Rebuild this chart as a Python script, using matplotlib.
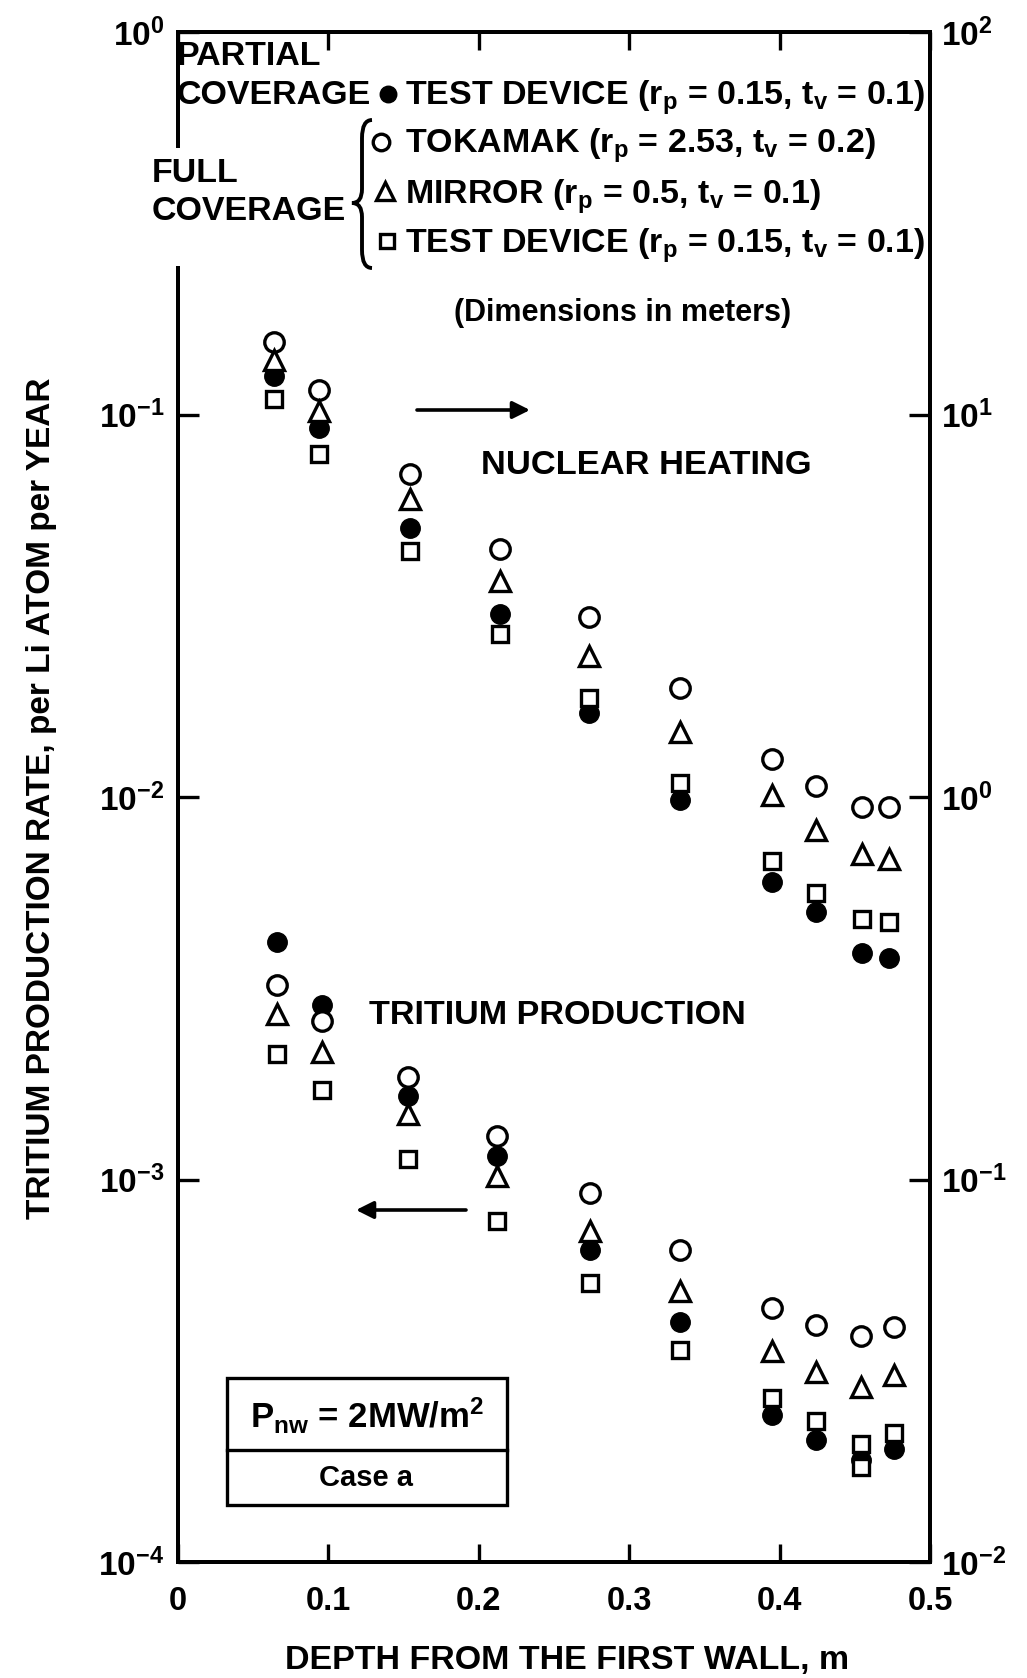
import matplotlib
matplotlib.use('Agg')
import matplotlib.pyplot as plt
from matplotlib.patches import Rectangle, PathPatch
from matplotlib.path import Path
from matplotlib.lines import Line2D
from matplotlib.ticker import FixedLocator, FixedFormatter, NullLocator

# --- data -----------------------------------------------------------------
# nuclear heating (right axis), depth in m
depth_heat = [0.064, 0.094, 0.154, 0.214, 0.273, 0.334, 0.395, 0.424, 0.455, 0.473]
heat_tokamak = [15.5, 11.6, 7.0, 4.45, 2.96, 1.93, 1.26, 1.07, 0.94, 0.94]
heat_mirror = [13.9, 10.2, 6.0, 3.67, 2.34, 1.48, 1.01, 0.82, 0.71, 0.69]
heat_test_full = [11.0, 7.9, 4.4, 2.67, 1.82, 1.09, 0.68, 0.56, 0.48, 0.47]
heat_test_partial = [12.6, 9.2, 5.05, 3.01, 1.66, 0.98, 0.60, 0.50, 0.39, 0.38]

# tritium production (left axis)
depth_trit = [0.066, 0.096, 0.153, 0.212, 0.274, 0.334, 0.395, 0.424, 0.454, 0.476]
trit_tokamak = [3.22e-3, 2.60e-3, 1.85e-3, 1.30e-3, 9.2e-4, 6.53e-4, 4.61e-4, 4.17e-4, 3.90e-4, 4.12e-4]
trit_mirror = [2.71e-3, 2.15e-3, 1.48e-3, 1.02e-3, 7.33e-4, 5.11e-4, 3.56e-4, 3.14e-4, 2.87e-4, 3.09e-4]
trit_test_partial = [4.17e-3, 2.86e-3, 1.65e-3, 1.15e-3, 6.53e-4, 4.24e-4, 2.43e-4, 2.08e-4, 1.85e-4, 1.97e-4]
depth_trit_sq = [0.066, 0.096, 0.153, 0.212, 0.274, 0.334, 0.395, 0.424, 0.454, 0.454, 0.476]
trit_test_full = [2.13e-3, 1.71e-3, 1.13e-3, 7.78e-4, 5.36e-4, 3.59e-4, 2.69e-4, 2.33e-4, 2.03e-4, 1.77e-4, 2.18e-4]

x_ticks = [0, 0.1, 0.2, 0.3, 0.4, 0.5]
x_labels = ['0', '0.1', '0.2', '0.3', '0.4', '0.5']
left_ticks = [1e-4, 1e-3, 1e-2, 1e-1, 1e0]
left_labels = [r'$10^{-4}$', r'$10^{-3}$', r'$10^{-2}$', r'$10^{-1}$', r'$10^{0}$']
right_ticks = [1e-2, 1e-1, 1e0, 1e1, 1e2]
right_labels = [r'$10^{-2}$', r'$10^{-1}$', r'$10^{0}$', r'$10^{1}$', r'$10^{2}$']

FONT = ['Liberation Sans', 'DejaVu Sans']
plt.rcParams['font.family'] = FONT
plt.rcParams['font.weight'] = 'bold'
plt.rcParams['mathtext.fontset'] = 'custom'
plt.rcParams['mathtext.rm'] = 'Liberation Sans:bold'
plt.rcParams['mathtext.it'] = 'Liberation Sans:bold'
plt.rcParams['mathtext.bf'] = 'Liberation Sans:bold'

W, H = 1027, 1678
fig = plt.figure(figsize=(W / 100, H / 100), dpi=100)


def fx(x):
    return x / W


def fy(y):
    return 1 - y / H


ax = fig.add_axes([fx(178), fy(1562), 752 / W, 1530 / H])
ax.set_xlim(0, 0.5)
ax.set_yscale('log')
ax.set_ylim(1e-4, 1e0)
ax2 = ax.twinx()
ax2.set_yscale('log')
ax2.set_ylim(1e-2, 1e2)

for a in (ax, ax2):
    for s in a.spines.values():
        s.set_linewidth(2.8)
    a.yaxis.set_minor_locator(NullLocator())

ax.xaxis.set_major_locator(FixedLocator(x_ticks))
ax.xaxis.set_major_formatter(FixedFormatter(x_labels))
ax.yaxis.set_major_locator(FixedLocator(left_ticks))
ax.yaxis.set_major_formatter(FixedFormatter(left_labels))
ax2.yaxis.set_major_locator(FixedLocator(right_ticks))
ax2.yaxis.set_major_formatter(FixedFormatter(right_labels))

ax.tick_params(axis='x', direction='in', length=13, width=2.4, top=True,
               labelsize=23.5, pad=17)
ax.tick_params(axis='y', direction='in', length=15, width=2.4,
               labelsize=24, pad=10)
ax2.tick_params(axis='y', direction='in', length=15, width=2.4,
                labelsize=24, pad=8)

# --- points ---------------------------------------------------------------
kw = dict(linestyle='none', color='black')
filled = dict(marker='o', ms=14, mfc='black', mec='black', **kw)
circ = dict(marker='o', ms=14, mfc='white', mec='black', mew=2.4, **kw)
tri = dict(marker='^', ms=15, mfc='white', mec='black', mew=2.4, **kw)
sq = dict(marker='s', ms=11.5, mfc='white', mec='black', mew=2.4, **kw)

ax2.plot(depth_heat, heat_test_partial, zorder=3, **filled)
ax2.plot(depth_heat, heat_tokamak, zorder=4, **circ)
ax2.plot(depth_heat, heat_mirror, zorder=5, **tri)
ax2.plot(depth_heat, heat_test_full, zorder=6, **sq)

ax.plot(depth_trit, trit_test_partial, zorder=3, **filled)
ax.plot(depth_trit, trit_tokamak, zorder=4, **circ)
ax.plot(depth_trit, trit_mirror, zorder=5, **tri)
ax.plot(depth_trit_sq, trit_test_full, zorder=6, **sq)

# --- legend block ---------------------------------------------------------
fs = 24.5
white = dict(facecolor='white', edgecolor='none', pad=1.5)
fig.add_artist(Rectangle((fx(155), fy(266)), 50 / W, 118 / H,
                         transform=fig.transFigure, facecolor='white',
                         edgecolor='none', zorder=2.5))
fig.text(fx(177), fy(65), 'PARTIAL', fontsize=fs, va='baseline')
fig.text(fx(177), fy(104), 'COVERAGE', fontsize=fs, va='baseline')
fig.text(fx(152), fy(182), 'FULL', fontsize=fs, va='baseline')
fig.text(fx(152), fy(220), 'COVERAGE', fontsize=fs, va='baseline')

entries = [
    (filled, 388, 94, 105, r'TEST DEVICE (r$_{\rm p}$ = 0.15, t$_{\rm v}$ = 0.1)'),
    (circ, 381, 142, 153, r'TOKAMAK (r$_{\rm p}$ = 2.53, t$_{\rm v}$ = 0.2)'),
    (tri, 385, 191, 204, r'MIRROR (r$_{\rm p}$ = 0.5, t$_{\rm v}$ = 0.1)'),
    (sq, 387, 241, 253, r'TEST DEVICE (r$_{\rm p}$ = 0.15, t$_{\rm v}$ = 0.1)'),
]
for style, mx, my, base, label in entries:
    st = dict(style)
    st['ms'] = st['ms'] * 0.85
    fig.add_artist(Line2D([fx(mx)], [fy(my)], transform=fig.transFigure,
                          zorder=4, **st))
    fig.text(fx(405), fy(base), label, fontsize=fs, va='baseline',
             bbox=white, zorder=3)

# curly brace for the full coverage group
xr, xt, yt, yb, ym = 372, 352, 120, 268, 203
xm = (xr + xt) / 2
pts = [(xr, yt), (xm, yt), (xm, yt + 18), (xm, ym - 14), (xm, ym), (xt, ym),
       (xm, ym), (xm, ym + 14), (xm, yb - 18), (xm, yb), (xr, yb)]
codes = [Path.MOVETO, Path.CURVE3, Path.CURVE3, Path.LINETO, Path.CURVE3,
         Path.CURVE3, Path.CURVE3, Path.CURVE3, Path.LINETO, Path.CURVE3,
         Path.CURVE3]
brace = Path([(fx(x), fy(y)) for x, y in pts], codes)
fig.add_artist(PathPatch(brace, transform=fig.transFigure, fill=False,
                         lw=2.8, edgecolor='black', zorder=4))

fig.text(fx(623), fy(313), '(Dimensions in meters)', fontsize=22,
         ha='center', va='center')

# --- annotations ----------------------------------------------------------
fig.text(fx(646), fy(465), 'NUCLEAR HEATING', fontsize=24.8,
         ha='center', va='center')
fig.text(fx(557), fy(1016), 'TRITIUM PRODUCTION', fontsize=24.6,
         ha='center', va='center')
arrow = dict(arrowstyle='-|>', lw=2.6, color='black', mutation_scale=26,
             shrinkA=0, shrinkB=0)
ax.annotate('', xy=(fx(530), fy(410)), xytext=(fx(417), fy(410)),
            xycoords='figure fraction', textcoords='figure fraction',
            arrowprops=arrow)
ax.annotate('', xy=(fx(356), fy(1210)), xytext=(fx(466), fy(1210)),
            xycoords='figure fraction', textcoords='figure fraction',
            arrowprops=arrow)

# case box
fig.add_artist(Rectangle((fx(227), fy(1505)), 280 / W, 127 / H,
                         transform=fig.transFigure, facecolor='white',
                         edgecolor='black', lw=2.4, zorder=3))
fig.add_artist(Line2D([fx(227), fx(507)], [fy(1450), fy(1450)],
                      transform=fig.transFigure, color='black', lw=2.4,
                      zorder=4))
fig.text(fx(367), fy(1428), r'P$_{\rm nw}$ = 2MW/m$^{2}$', fontsize=25,
         ha='center', va='baseline', zorder=5)
fig.text(fx(366), fy(1478), 'Case a', fontsize=21, ha='center',
         va='center', zorder=5)

# --- axis titles ----------------------------------------------------------
fig.text(fx(567), fy(1661), 'DEPTH FROM THE FIRST WALL, m', fontsize=24.5,
         ha='center', va='center')
fig.text(fx(42), fy(798), 'TRITIUM PRODUCTION RATE, per Li ATOM per YEAR',
         fontsize=24, ha='center', va='center', rotation=90)

fig.savefig('out.png', dpi=100)
